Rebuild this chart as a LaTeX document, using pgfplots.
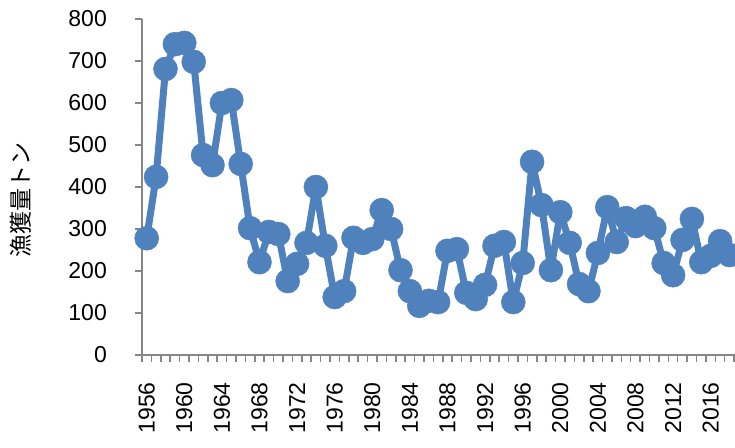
\documentclass[border=0pt]{standalone}
\usepackage{fontspec}
\setmainfont{Liberation Sans}
\newfontfamily\jp{Noto Sans CJK JP}
\usepackage{pgfplots}
\usepackage{pgfplotstable}
\pgfplotsset{compat=1.18}
\definecolor{serieblue}{HTML}{4F81BD}
\definecolor{axisgray}{HTML}{868686}

% catch per year
\pgfplotstableread{
year catch
1956 278
1957 424
1958 681
1959 740
1960 743
1961 698
1962 476
1963 452
1964 600
1965 607
1966 455
1967 302
1968 221
1969 293
1970 288
1971 176
1972 217
1973 267
1974 400
1975 260
1976 138
1977 152
1978 279
1979 267
1980 276
1981 345
1982 300
1983 202
1984 152
1985 117
1986 129
1987 126
1988 248
1989 252
1990 148
1991 133
1992 167
1993 260
1994 269
1995 126
1996 219
1997 460
1998 357
1999 202
2000 340
2001 267
2002 169
2003 152
2004 243
2005 352
2006 269
2007 326
2008 307
2009 329
2010 302
2011 219
2012 190
2013 274
2014 324
2015 221
2016 236
2017 271
2018 238
}\catchtable

\begin{document}
\begin{tikzpicture}
\useasboundingbox (0,0) rectangle (735bp,448bp);
\clip (0,0) rectangle (735bp,448bp);
\begin{axis}[
  at={(142bp,93bp)}, anchor=south west,
  scale only axis, width=601.6bp, height=336bp,
  xmin=1955.5, xmax=2019.5, ymin=0, ymax=800,
  axis x line*=bottom, axis y line*=left,
  axis line style={axisgray, line width=1.5bp},
  ytick={0,100,...,800},
  xtick={1955.5,1956.5,...,2019.5}, xticklabels={},
  extra x ticks={1956,1960,...,2016},
  extra x tick style={major tick length=0pt},
  tick align=outside,
  major tick length=7bp,
  xtick style={draw=axisgray, line width=1.5bp},
  ytick style={draw=axisgray, line width=1.5bp},
  tick label style={font=\fontsize{23bp}{23bp}\selectfont, inner sep=0pt},
  /pgf/number format/assume math mode=true,
  /pgf/number format/1000 sep={},
  yticklabel style={anchor=east, xshift=-28bp},
  xticklabel style={yshift=-27bp, rotate=90, anchor=east},
  ylabel={\jp 漁獲量トン},
  ylabel style={at={(axis description cs:-0.201,0.46)}, anchor=center,
    font=\fontsize{23bp}{23bp}\selectfont},
]
\addplot[serieblue, line width=7bp, line join=round, mark=*, mark size=12bp,
  mark options={solid, fill=serieblue, draw=serieblue, line width=0.5bp}]
  table[x=year, y=catch] {\catchtable};
\end{axis}
\end{tikzpicture}
\end{document}
